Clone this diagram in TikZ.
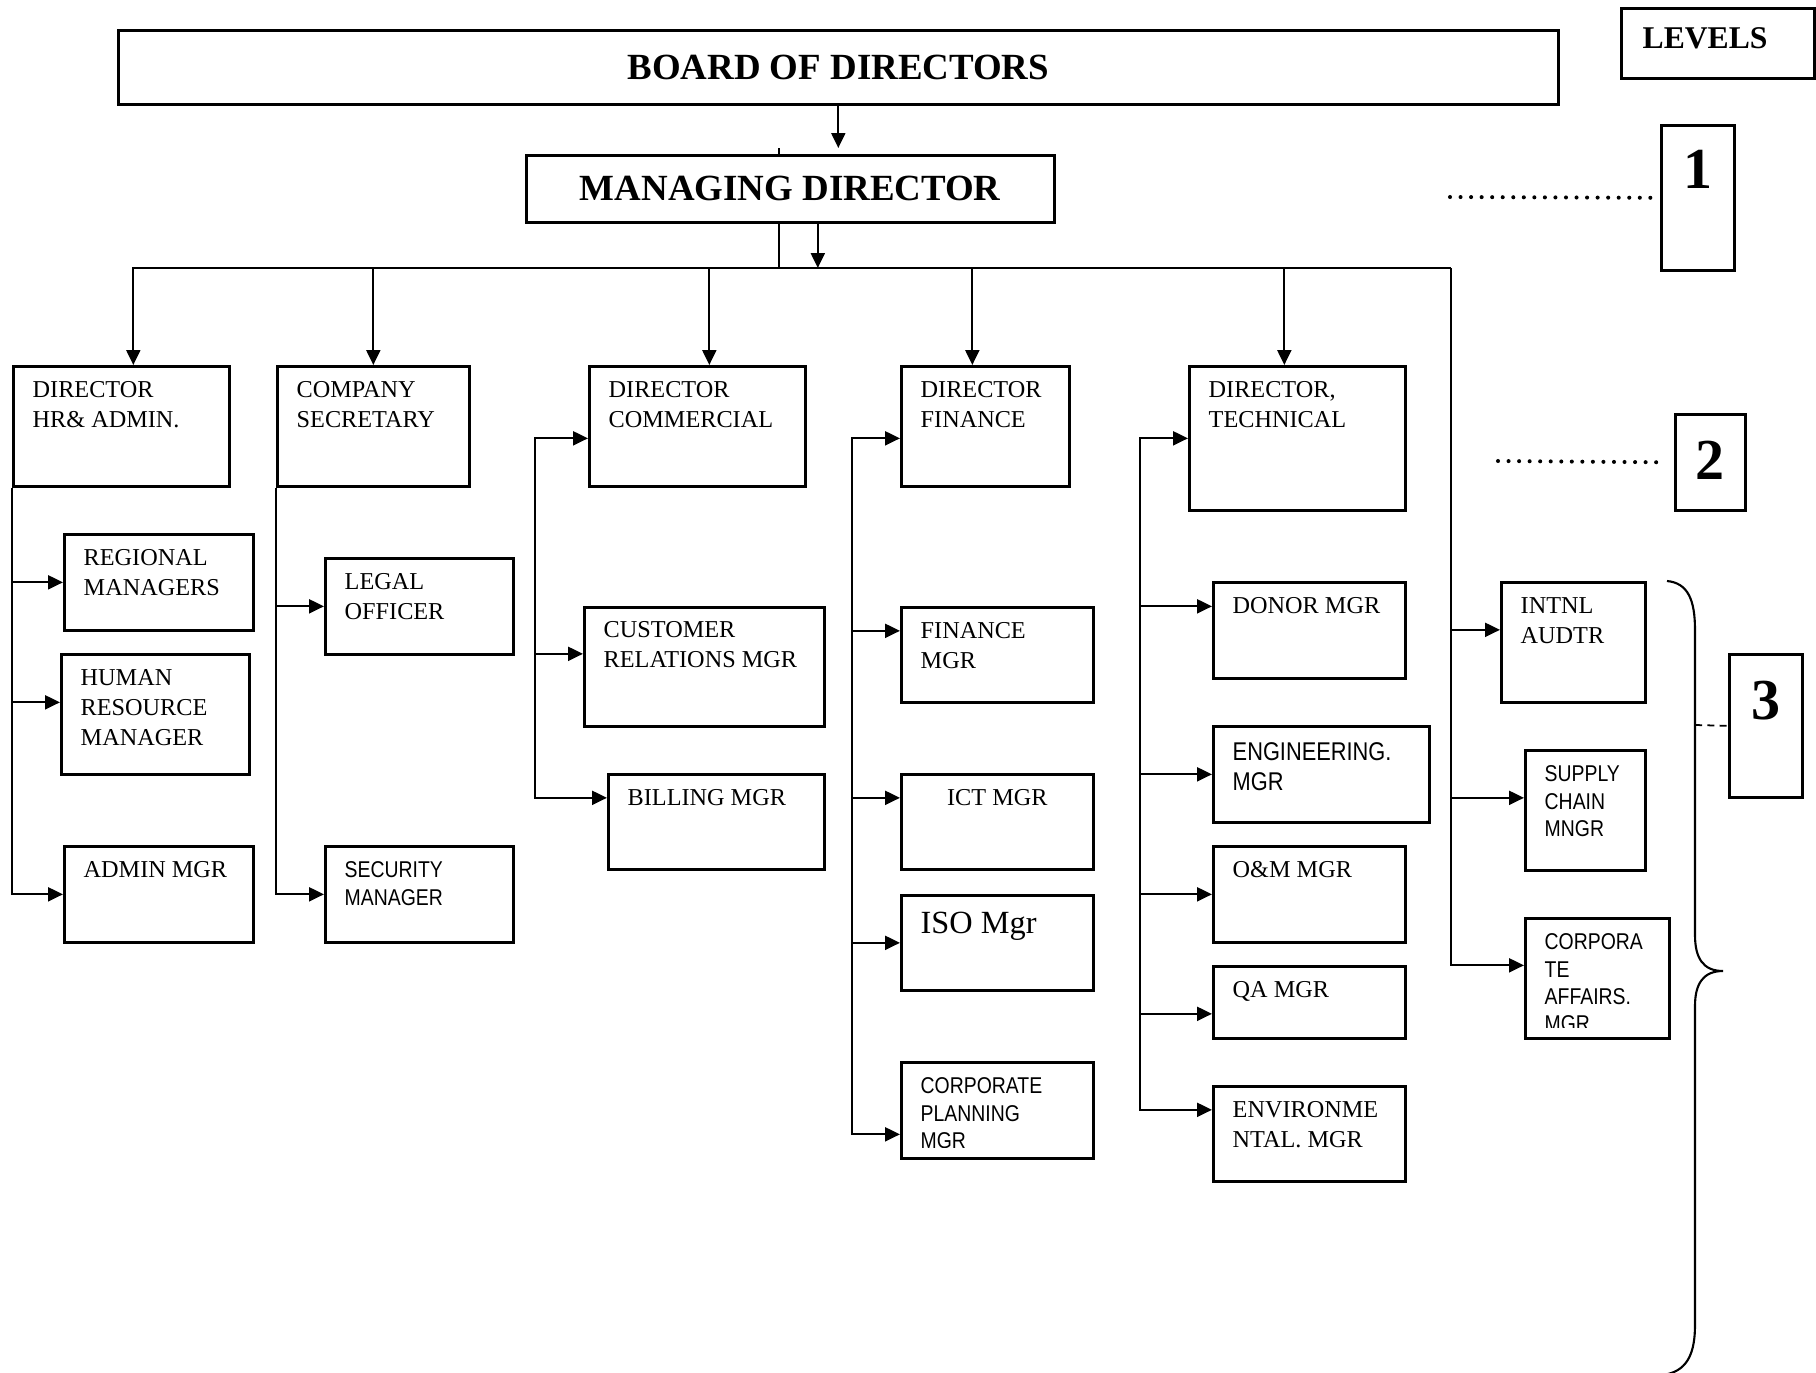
\documentclass[tikz,border=0pt]{standalone}
\usepackage{fontspec}
\setmainfont{Liberation Serif}
\newfontfamily\arialfont[FakeStretch=0.85]{Liberation Sans}
\usetikzlibrary{arrows.meta,positioning}
\tikzset{
  unit/.style={draw, line width=0.75pt, fill=white, inner sep=0pt, anchor=north west},
  txt/.style={font=\fontsize{6.9}{8.5}\selectfont, align=left, inner sep=0pt, anchor=north west},
  stxt/.style={txt, font=\arialfont\fontsize{6.5}{7.8}\selectfont},
  con/.style={line width=0.6pt},
  arr/.style={con, -{Triangle[length=1.5mm,width=1.4mm]}},
  lvl/.style={font=\bfseries\fontsize{16.5}{18}\selectfont, inner sep=0pt, anchor=north},
  lvldots/.style={line width=1.15pt, line cap=round, dash pattern=on 0pt off #1},
}

\begin{document}
\begin{tikzpicture}[x=0.1mm, y=-0.1mm]
\useasboundingbox (0,0) rectangle (1816,1372);

\coordinate (bl) at (132,268);
\coordinate (br) at (1451,268);
\coordinate (mdt) at (779,148);

% top
\node[unit, minimum width=144mm, minimum height=7.4mm, font=\bfseries\fontsize{10.5}{12}\selectfont] (board) at (117,29) {BOARD OF DIRECTORS};
\draw[line width=0.4pt] (mdt) -- (mdt |- bl);
\node[unit, minimum width=52.8mm, minimum height=6.7mm, font=\bfseries\fontsize{10.5}{12}\selectfont] (md) at (525,154) {MANAGING DIRECTOR};
\draw[arr, shorten >=0.6mm] (board.south) -- (board.south |- md.north);
\coordinate (mdb) at ([xshift=2.75mm]md.south);
\draw[arr] (mdb) -- (mdb |- bl);
\draw[con] (bl) -- (br);

% levels
\node[unit, minimum width=19.3mm, minimum height=7mm] (levels) at (1620,7) {};
\node[txt, font=\bfseries\fontsize{9}{11}\selectfont, below right=2mm and 2.2mm of levels.north west] (levels-t) {LEVELS};
\node[unit, minimum width=7.3mm, minimum height=14.5mm] (lvl1) at (1660,124) {};
\node[lvl, below=2.6mm of lvl1.north] (lvl1-t) {1};
\node[unit, minimum width=7mm, minimum height=9.6mm] (lvl2) at (1674,413) {};
\node[lvl, below=2.7mm of lvl2.north] (lvl2-t) {2};
\node[unit, minimum width=7.3mm, minimum height=14.3mm] (lvl3) at (1728,653) {};
\node[lvl, below=2.7mm of lvl3.north] (lvl3-t) {3};
\coordinate (dot1) at (1450,197);
\coordinate (dot2) at (1498,461);
\draw[lvldots=3pt] (dot1) -- (lvl1.west);
\draw[lvldots=3pt] (dot2) -- ([xshift=-0.8mm]lvl2.west);
\draw[line width=0.6pt] (1667,581) .. controls (1688,583) and (1695,600) .. (1695,630) -- (1695,935)
  .. controls (1695,958) and (1703,971) .. (1723,971) .. controls (1703,971) and (1695,984) .. (1695,1006)
  -- (1695,1325) .. controls (1695,1352) and (1688,1369) .. (1668,1374);
\coordinate (brc) at (1695,725);
\draw[line width=0.5pt, dash pattern=on 2pt off 1.5pt] (brc) -- (lvl3.west);

% directors
\node[unit, minimum width=21.6mm, minimum height=12mm] (hr) at (12,365) {};
\node[unit, minimum width=19.2mm, minimum height=12mm] (cs) at (276,365) {};
\node[unit, minimum width=21.6mm, minimum height=12mm] (dc) at (588,365) {};
\node[unit, minimum width=16.8mm, minimum height=12mm] (df) at (900,365) {};
\node[unit, minimum width=21.6mm, minimum height=14.4mm] (dt) at (1188,365) {};
\node[txt, below right=1.6mm and 2mm of hr.north west] (hr-t) {DIRECTOR\\HR\& ADMIN.};
\node[txt, below right=1.6mm and 2mm of cs.north west] (cs-t) {COMPANY\\SECRETARY};
\node[txt, below right=1.6mm and 2mm of dc.north west] (dc-t) {DIRECTOR\\COMMERCIAL};
\node[txt, below right=1.6mm and 2mm of df.north west] (df-t) {DIRECTOR\\FINANCE};
\node[txt, below right=1.6mm and 2mm of dt.north west] (dt-t) {DIRECTOR,\\TECHNICAL};

\foreach \n/\d in {hr/1.2, cs/0, dc/1.2, df/-1.3, dt/-1.3} {
  \path ([xshift=\d mm]\n.north) coordinate (t\n);
  \draw[arr] (t\n |- bl) -- (t\n);
}

% managers
\node[unit, minimum width=18.9mm, minimum height=9.6mm] (reg) at (63,533) {};
\node[unit, minimum width=18.8mm, minimum height=12mm] (hrm) at (60,653) {};
\node[unit, minimum width=18.9mm, minimum height=9.6mm] (adm) at (63,845) {};
\node[unit, minimum width=18.8mm, minimum height=9.6mm] (legal) at (324,557) {};
\node[unit, minimum width=18.8mm, minimum height=9.6mm] (sec) at (324,845) {};
\node[unit, minimum width=24mm, minimum height=11.9mm] (crm) at (583,606) {};
\node[unit, minimum width=21.6mm, minimum height=9.5mm] (bill) at (607,773) {};
\node[unit, minimum width=19.2mm, minimum height=9.5mm] (fm) at (900,606) {};
\node[unit, minimum width=19.2mm, minimum height=9.5mm] (ict) at (900,773) {};
\node[unit, minimum width=19.2mm, minimum height=9.5mm] (iso) at (900,894) {};
\node[unit, minimum width=19.2mm, minimum height=9.6mm] (cpm) at (900,1061) {};
\node[unit, minimum width=19.2mm, minimum height=9.6mm] (donor) at (1212,581) {};
\node[unit, minimum width=21.6mm, minimum height=9.6mm] (eng) at (1212,725) {};
\node[unit, minimum width=19.2mm, minimum height=9.6mm] (om) at (1212,845) {};
\node[unit, minimum width=19.2mm, minimum height=7.2mm] (qa) at (1212,965) {};
\node[unit, minimum width=19.2mm, minimum height=9.5mm] (env) at (1212,1085) {};
\node[unit, minimum width=14.4mm, minimum height=12mm] (ia) at (1500,581) {};
\node[unit, minimum width=12mm, minimum height=12mm] (sc) at (1524,749) {};
\node[unit, minimum width=14.4mm, minimum height=12mm] (ca) at (1524,917) {};

\node[txt, below right=1.6mm and 2mm of reg.north west] (reg-t) {REGIONAL\\MANAGERS};
\node[txt, below right=1.6mm and 2mm of hrm.north west] (hrm-t) {HUMAN\\RESOURCE\\MANAGER};
\node[txt, below right=1.6mm and 2mm of adm.north west] (adm-t) {ADMIN MGR};
\node[txt, below right=1.6mm and 2mm of legal.north west] (legal-t) {LEGAL\\OFFICER};
\node[stxt, below right=1.6mm and 2mm of sec.north west] (sec-t) {SECURITY\\MANAGER};
\node[txt, below right=1.5mm and 2mm of crm.north west] (crm-t) {CUSTOMER\\RELATIONS MGR};
\node[txt, below right=1.6mm and 2mm of bill.north west] (bill-t) {BILLING MGR};
\node[txt, below right=1.6mm and 2mm of fm.north west] (fm-t) {FINANCE\\MGR};
\node[txt, below=1.6mm of ict.north] (ict-t) {ICT MGR};
\node[txt, font=\fontsize{9.2}{11}\selectfont, below right=1.7mm and 2mm of iso.north west] (iso-t) {ISO Mgr};
\begin{scope}
  \clip (cpm.north west) rectangle ([yshift=1.2mm]cpm.south east);
  \node[stxt, below right=1.6mm and 2mm of cpm.north west] (cpm-t) {CORPORATE\\PLANNING\\MGR};
\end{scope}
\node[txt, below right=1.6mm and 2mm of donor.north west] (donor-t) {DONOR MGR};
\node[stxt, font=\arialfont\fontsize{7.3}{8.5}\selectfont, below right=1.7mm and 2mm of eng.north west] (eng-t) {ENGINEERING.\\MGR};
\node[txt, below right=1.6mm and 2mm of om.north west] (om-t) {O\&M MGR};
\node[txt, below right=1.6mm and 2mm of qa.north west] (qa-t) {QA MGR};
\node[txt, below right=1.6mm and 2mm of env.north west] (env-t) {ENVIRONME\\NTAL. MGR};
\node[txt, below right=1.6mm and 2mm of ia.north west] (ia-t) {INTNL\\AUDTR};
\node[stxt, below right=1.6mm and 2mm of sc.north west] (sc-t) {SUPPLY\\CHAIN\\MNGR};
\begin{scope}
  \clip (ca.north west) rectangle ([yshift=1.2mm]ca.south east);
  \node[stxt, below right=1.6mm and 2mm of ca.north west] (ca-t) {CORPORA\\TE\\AFFAIRS.\\MGR};
\end{scope}

% branches
\coordinate (sp3) at (535,437);
\coordinate (sp4) at (852,437);
\coordinate (sp5) at (1140,437);
\foreach \n/\d in {reg/0, hrm/1.2, adm/0}
  \draw[arr] (hr.south west) |- ([yshift=\d mm]\n.west);
\foreach \n in {legal, sec}
  \draw[arr] (cs.south west) |- (\n.west);
\foreach \n/\d in {dc/-1.2, crm/1.3, bill/2.4}
  \draw[arr] (sp3) |- ([yshift=\d mm]\n.west);
\foreach \n/\d in {df/-1.2, fm/2.4, ict/2.4, iso/0, cpm/-2.4}
  \draw[arr] (sp4) |- ([yshift=\d mm]\n.west);
\foreach \n/\d in {dt/0, donor/2.4, eng/0, om/0, qa/-1.15, env/2.4}
  \draw[arr] (sp5) |- ([yshift=\d mm]\n.west);
\foreach \n/\d in {ia/1.25, sc/1.25, ca/1.3}
  \draw[arr] (br) |- ([yshift=\d mm]\n.west);
\end{tikzpicture}
\end{document}
